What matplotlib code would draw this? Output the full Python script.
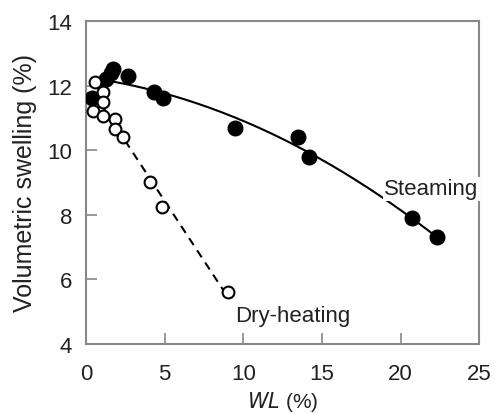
import matplotlib
matplotlib.use('Agg')
import matplotlib.pyplot as plt
import numpy as np

matplotlib.rcParams['font.family'] = ['Liberation Sans', 'DejaVu Sans']
matplotlib.rcParams['xtick.direction'] = 'in'
matplotlib.rcParams['ytick.direction'] = 'in'

# steaming (filled) and dry-heating (open) samples
wl_steam = [0.4, 1.3, 1.6, 1.7, 2.7, 4.3, 4.9, 9.5, 13.5, 14.2, 20.7, 22.3]
vs_steam = [11.6, 12.2, 12.4, 12.5, 12.3, 11.8, 11.6, 10.7, 10.4, 9.8, 7.9, 7.3]

wl_dry = [0.57, 1.1, 1.1, 0.45, 1.1, 1.85, 1.85, 2.35, 4.07, 4.83, 9.03]
vs_dry = [12.1, 11.8, 11.5, 11.2, 11.05, 10.97, 10.66, 10.4, 9.0, 8.24, 5.6]

fig = plt.figure(figsize=(4.94, 4.14), dpi=100)
ax = fig.add_axes([0.174, 0.167, 0.796, 0.780])

# fitted trends
p2 = np.polyfit(wl_steam, vs_steam, 2)
xs = np.linspace(min(wl_steam), max(wl_steam), 200)
ax.plot(xs, np.polyval(p2, xs), color='black', lw=1.5, zorder=2)

p1 = np.polyfit(wl_dry, vs_dry, 1)
xd = np.linspace(min(wl_dry), max(wl_dry), 50)
ax.plot(xd, np.polyval(p1, xd), color='black', lw=1.5, ls=(0, (4, 3)), zorder=2)

ax.plot(wl_steam, vs_steam, 'o', color='black', markersize=10.5, zorder=3)
ax.plot(wl_dry, vs_dry, 'o', markerfacecolor='white', markeredgecolor='black',
        markeredgewidth=1.5, markersize=8.5, zorder=4)

ax.text(24.95, 8.8, 'Steaming', ha='right', va='center', fontsize=16,
        color='#222222', bbox=dict(facecolor='white', edgecolor='none', pad=1), zorder=5)
ax.text(9.5, 4.87, 'Dry-heating', ha='left', va='center', fontsize=16,
        color='#222222', bbox=dict(facecolor='white', edgecolor='none', pad=1), zorder=5)

ax.set_xlim(0, 25)
ax.set_ylim(4, 14)
ax.set_xticks([0, 5, 10, 15, 20, 25])
ax.set_yticks([4, 6, 8, 10, 12, 14])
ax.tick_params(labelsize=16, length=8, width=1.2, color='#888888',
               labelcolor='#222222')
ax.tick_params(axis='x', pad=14)
ax.tick_params(axis='y', pad=10)
for s in ax.spines.values():
    s.set_color('#888888')
    s.set_linewidth(1.5)

ax.set_xlabel('$\\it{WL}$ (%)', fontsize=15, color='#222222')
ax.set_ylabel('Volumetric swelling (%)', fontsize=18, color='#222222')
ax.xaxis.set_label_coords(0.5, -0.14)
ax.yaxis.set_label_coords(-0.125, 0.5)

fig.savefig('out.png', dpi=100)
